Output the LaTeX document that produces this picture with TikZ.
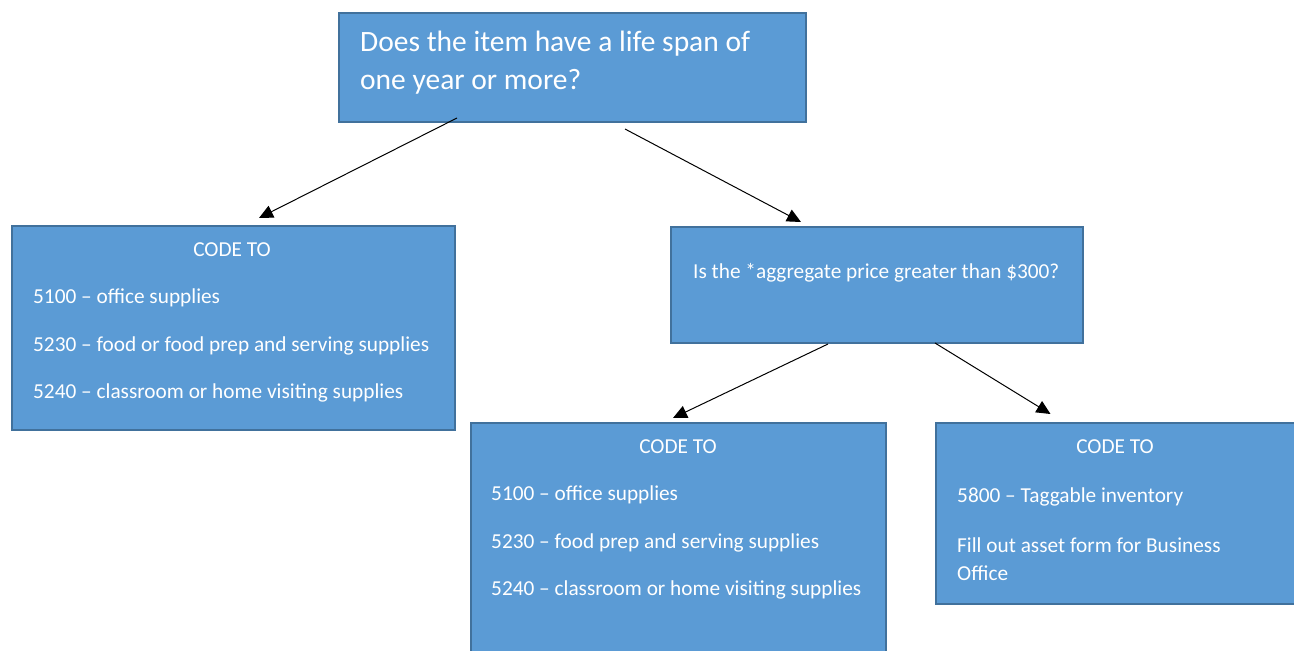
\documentclass[tikz,border=0pt]{standalone}
\usepackage{fontspec}
\setmainfont{Carlito}
\usetikzlibrary{arrows.meta}

\definecolor{boxfill}{HTML}{5B9BD5}
\definecolor{boxline}{HTML}{41719C}

\begin{document}
\begin{tikzpicture}[x = 1pt, y = -1pt, > = {Triangle[length = 14pt, width = 13pt]},
	box/.style = {fill = boxfill, draw = boxline, line width = 2pt, inner sep = 0pt, anchor = north west},
	txt/.style = {text = white, inner sep = 0pt, anchor = base west, font = \fontsize{21.3}{28}\selectfont},
	head/.style = {txt, anchor = base},
	big/.style = {txt, font = \fontsize{29.5}{38}\selectfont}]

	\useasboundingbox (0, 0) rectangle (1294, 651);
	\clip (0, 0) rectangle (1294, 651);

	% The boxes

	\node [box, minimum width = 467pt, minimum height = 109pt] (q1) at (338, 12) {};
	\node [box, minimum width = 443pt, minimum height = 204pt] (a1) at (11, 225) {};
	\node [box, minimum width = 412pt, minimum height = 116pt] (q2) at (670, 226) {};
	\node [box, minimum width = 415pt, minimum height = 250pt] (a2) at (470, 422) {};
	\node [box, minimum width = 380pt, minimum height = 181pt] (a3) at (935, 422) {};

	% Questions

	\node [big] (q1a) at (360, 51) {Does the item have a life span of};
	\node [big] (q1b) at (360, 89) {one year or more?};
	\node [txt] (q2a) at (693, 278) {Is the *aggregate price greater than \$300?};

	% Account codes

	\node [head] (a1h) at (232, 256) {CODE TO};
	\node [txt] (a1a) at (33, 303) {5100 – office supplies};
	\node [txt] (a1b) at (33, 351) {5230 – food or food prep and serving supplies};
	\node [txt] (a1c) at (33, 398) {5240 – classroom or home visiting supplies};

	\node [head] (a2h) at (678, 453) {CODE TO};
	\node [txt] (a2a) at (491, 500) {5100 – office supplies};
	\node [txt] (a2b) at (491, 548) {5230 – food prep and serving supplies};
	\node [txt] (a2c) at (491, 595) {5240 – classroom or home visiting supplies};

	\node [head] (a3h) at (1115, 453) {CODE TO};
	\node [txt] (a3a) at (957, 502) {5800 – Taggable inventory};
	\node [txt] (a3b) at (957, 552) {Fill out asset form for Business};
	\node [txt] (a3c) at (957, 580) {Office};

	% Arrows

	\begin{scope}[->, line width = 1pt]

		\draw ([xshift = -115.5pt, yshift = 5pt] q1.south) -- ([xshift = 25.5pt, yshift = 7pt] a1.north);
		\draw ([xshift = 52.5pt, yshift = -6pt] q1.south) -- ([xshift = -76pt, yshift = 4pt] q2.north);
		\draw ([xshift = -49pt] q2.south) -- ([xshift = -5.5pt, yshift = 4pt] a2.north);
		\draw ([xshift = 58pt, yshift = 1pt] q2.south) -- ([xshift = -75.5pt, yshift = 8pt] a3.north);

	\end{scope}

\end{tikzpicture}
\end{document}
